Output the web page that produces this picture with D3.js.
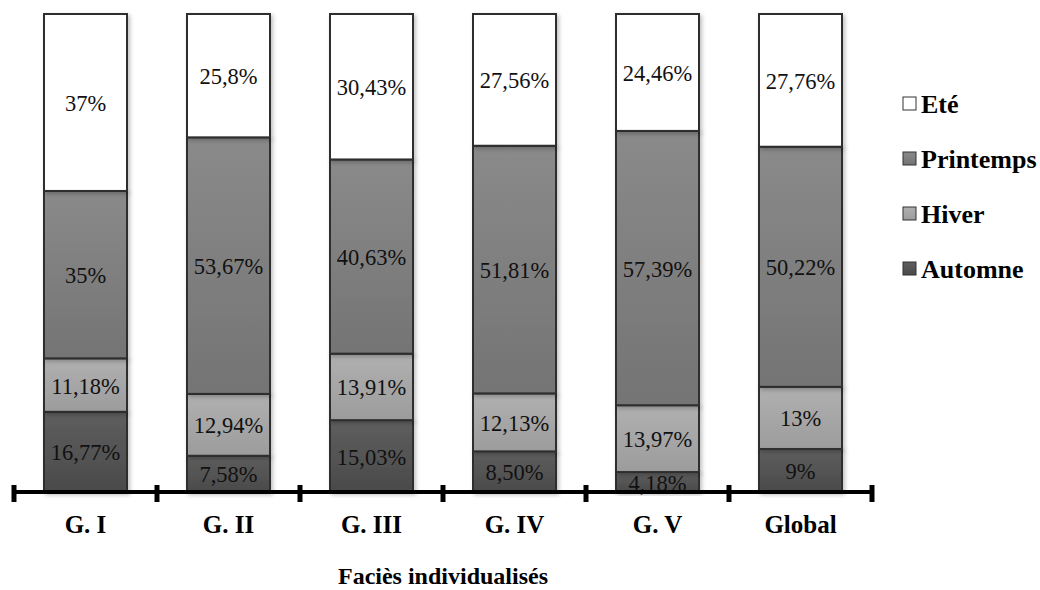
<!DOCTYPE html>
<html>
<head>
<meta charset="utf-8">
<script src="https://cdn.jsdelivr.net/npm/d3@7"></script>
<style>
  body { margin: 0; background: #fff; }
</style>
</head>
<body>
<div id="container"></div>
<script>
// data
let categories = ["G. I", "G. II", "G. III", "G. IV", "G. V", "Global"];
let seasons = ["Automne", "Hiver", "Printemps", "Eté"];
let automne   = [16.77, 7.58, 15.03, 8.50, 4.18, 9];
let hiver     = [11.18, 12.94, 13.91, 12.13, 13.97, 13];
let printemps = [35, 53.67, 40.63, 51.81, 57.39, 50.22];
let ete       = [37, 25.8, 30.43, 27.56, 24.46, 27.76];
let labels = {
  "Automne":   ["16,77%", "7,58%", "15,03%", "8,50%", "4,18%", "9%"],
  "Hiver":     ["11,18%", "12,94%", "13,91%", "12,13%", "13,97%", "13%"],
  "Printemps": ["35%", "53,67%", "40,63%", "51,81%", "57,39%", "50,22%"],
  "Eté":       ["37%", "25,8%", "30,43%", "27,56%", "24,46%", "27,76%"]
};

let W = 1040, H = 590;
let serif = "'Liberation Serif', 'Times New Roman', 'DejaVu Serif', serif";
let colors = {"Automne": ["#5e5e5e", "#4a4a4a"], "Hiver": ["#b0b0b0", "#9c9c9c"],
              "Printemps": ["#8a8a8a", "#747474"], "Eté": ["#ffffff", "#ffffff"]};

let rows = categories.map((c, i) => ({
  cat: c, "Automne": automne[i], "Hiver": hiver[i], "Printemps": printemps[i], "Eté": ete[i]
}));
// normalise to 100 (values read from the labels don't all sum exactly)
let stacked = d3.stack().keys(seasons).offset(d3.stackOffsetExpand)(rows);

let svg = d3.select("#container").append("svg")
  .attr("width", W).attr("height", H)
  .attr("font-family", serif);

let defs = svg.append("defs");
seasons.forEach((s, i) => {
  let g = defs.append("linearGradient").attr("id", "grad" + i)
    .attr("x1", 0).attr("y1", 0).attr("x2", 0).attr("y2", 1);
  g.append("stop").attr("offset", "0%").attr("stop-color", colors[s][0]);
  g.append("stop").attr("offset", "100%").attr("stop-color", colors[s][1]);
});
let shadow = defs.append("filter").attr("id", "shadow")
  .attr("x", "-10%").attr("y", "-10%").attr("width", "130%").attr("height", "130%");
shadow.append("feDropShadow").attr("dx", 2).attr("dy", 2).attr("stdDeviation", 2)
  .attr("flood-color", "#000").attr("flood-opacity", 0.25);

let xScale = d3.scaleBand().domain(categories).range([14, 872]).paddingInner(0).paddingOuter(0);
let yScale = d3.scaleLinear().domain([0, 1]).range([492, 14]);
let barW = 83;

let layers = svg.selectAll(".layer").data(stacked).enter().append("g")
  .attr("class", "layer");

layers.selectAll("rect").data(d => d.map(p => ({p: p, key: d.key, idx: d.index})))
  .enter().append("rect")
  .attr("x", (d, i) => xScale(categories[i]) + (xScale.bandwidth() - barW) / 2)
  .attr("y", d => yScale(d.p[1]))
  .attr("width", barW)
  .attr("height", d => yScale(d.p[0]) - yScale(d.p[1]))
  .attr("fill", d => "url(#grad" + d.idx + ")")
  .attr("stroke", "#2e2e2e")
  .attr("stroke-width", 2)
  .attr("filter", "url(#shadow)");

layers.selectAll("text").data(d => d.map((p, i) => ({p: p, key: d.key, i: i})))
  .enter().append("text")
  .attr("x", d => xScale(categories[d.i]) + xScale.bandwidth() / 2)
  .attr("y", d => (yScale(d.p[0]) + yScale(d.p[1])) / 2)
  .attr("dy", "0.38em")
  .attr("text-anchor", "middle")
  .attr("font-size", 22.5)
  .attr("fill", "#111")
  .text(d => labels[d.key][d.i]);

// x axis: thick line with ticks between categories
let axisG = svg.append("g");
axisG.append("line")
  .attr("x1", 14).attr("x2", 872).attr("y1", 492).attr("y2", 492)
  .attr("stroke", "#000").attr("stroke-width", 4);
let tickPos = categories.map(c => xScale(c)).concat([xScale.range()[1]]);
axisG.selectAll(".tick").data(tickPos).enter().append("line")
  .attr("x1", d => d).attr("x2", d => d)
  .attr("y1", 485).attr("y2", 502)
  .attr("stroke", "#000").attr("stroke-width", 5);
axisG.selectAll(".catlabel").data(categories).enter().append("text")
  .attr("x", d => xScale(d) + xScale.bandwidth() / 2)
  .attr("y", 533)
  .attr("text-anchor", "middle")
  .attr("font-size", 25)
  .attr("font-weight", "bold")
  .text(d => d);

svg.append("text")
  .attr("x", 443).attr("y", 584)
  .attr("text-anchor", "middle")
  .attr("font-size", 24)
  .attr("font-weight", "bold")
  .text("Faciès individualisés");

// legend, top item is Eté
let legendOrder = seasons.slice().reverse();
let legend = svg.selectAll(".legend").data(legendOrder).enter().append("g")
  .attr("class", "legend")
  .attr("transform", (d, i) => "translate(903," + (104 + i * 55) + ")");
legend.append("rect")
  .attr("x", 0).attr("y", -7).attr("width", 13).attr("height", 13)
  .attr("fill", d => "url(#grad" + seasons.indexOf(d) + ")")
  .attr("stroke", "#333").attr("stroke-width", 1);
legend.append("text")
  .attr("x", 18).attr("y", 0).attr("dy", "0.34em")
  .attr("font-size", 26)
  .attr("font-weight", "bold")
  .text(d => d);
</script>
</body>
</html>
